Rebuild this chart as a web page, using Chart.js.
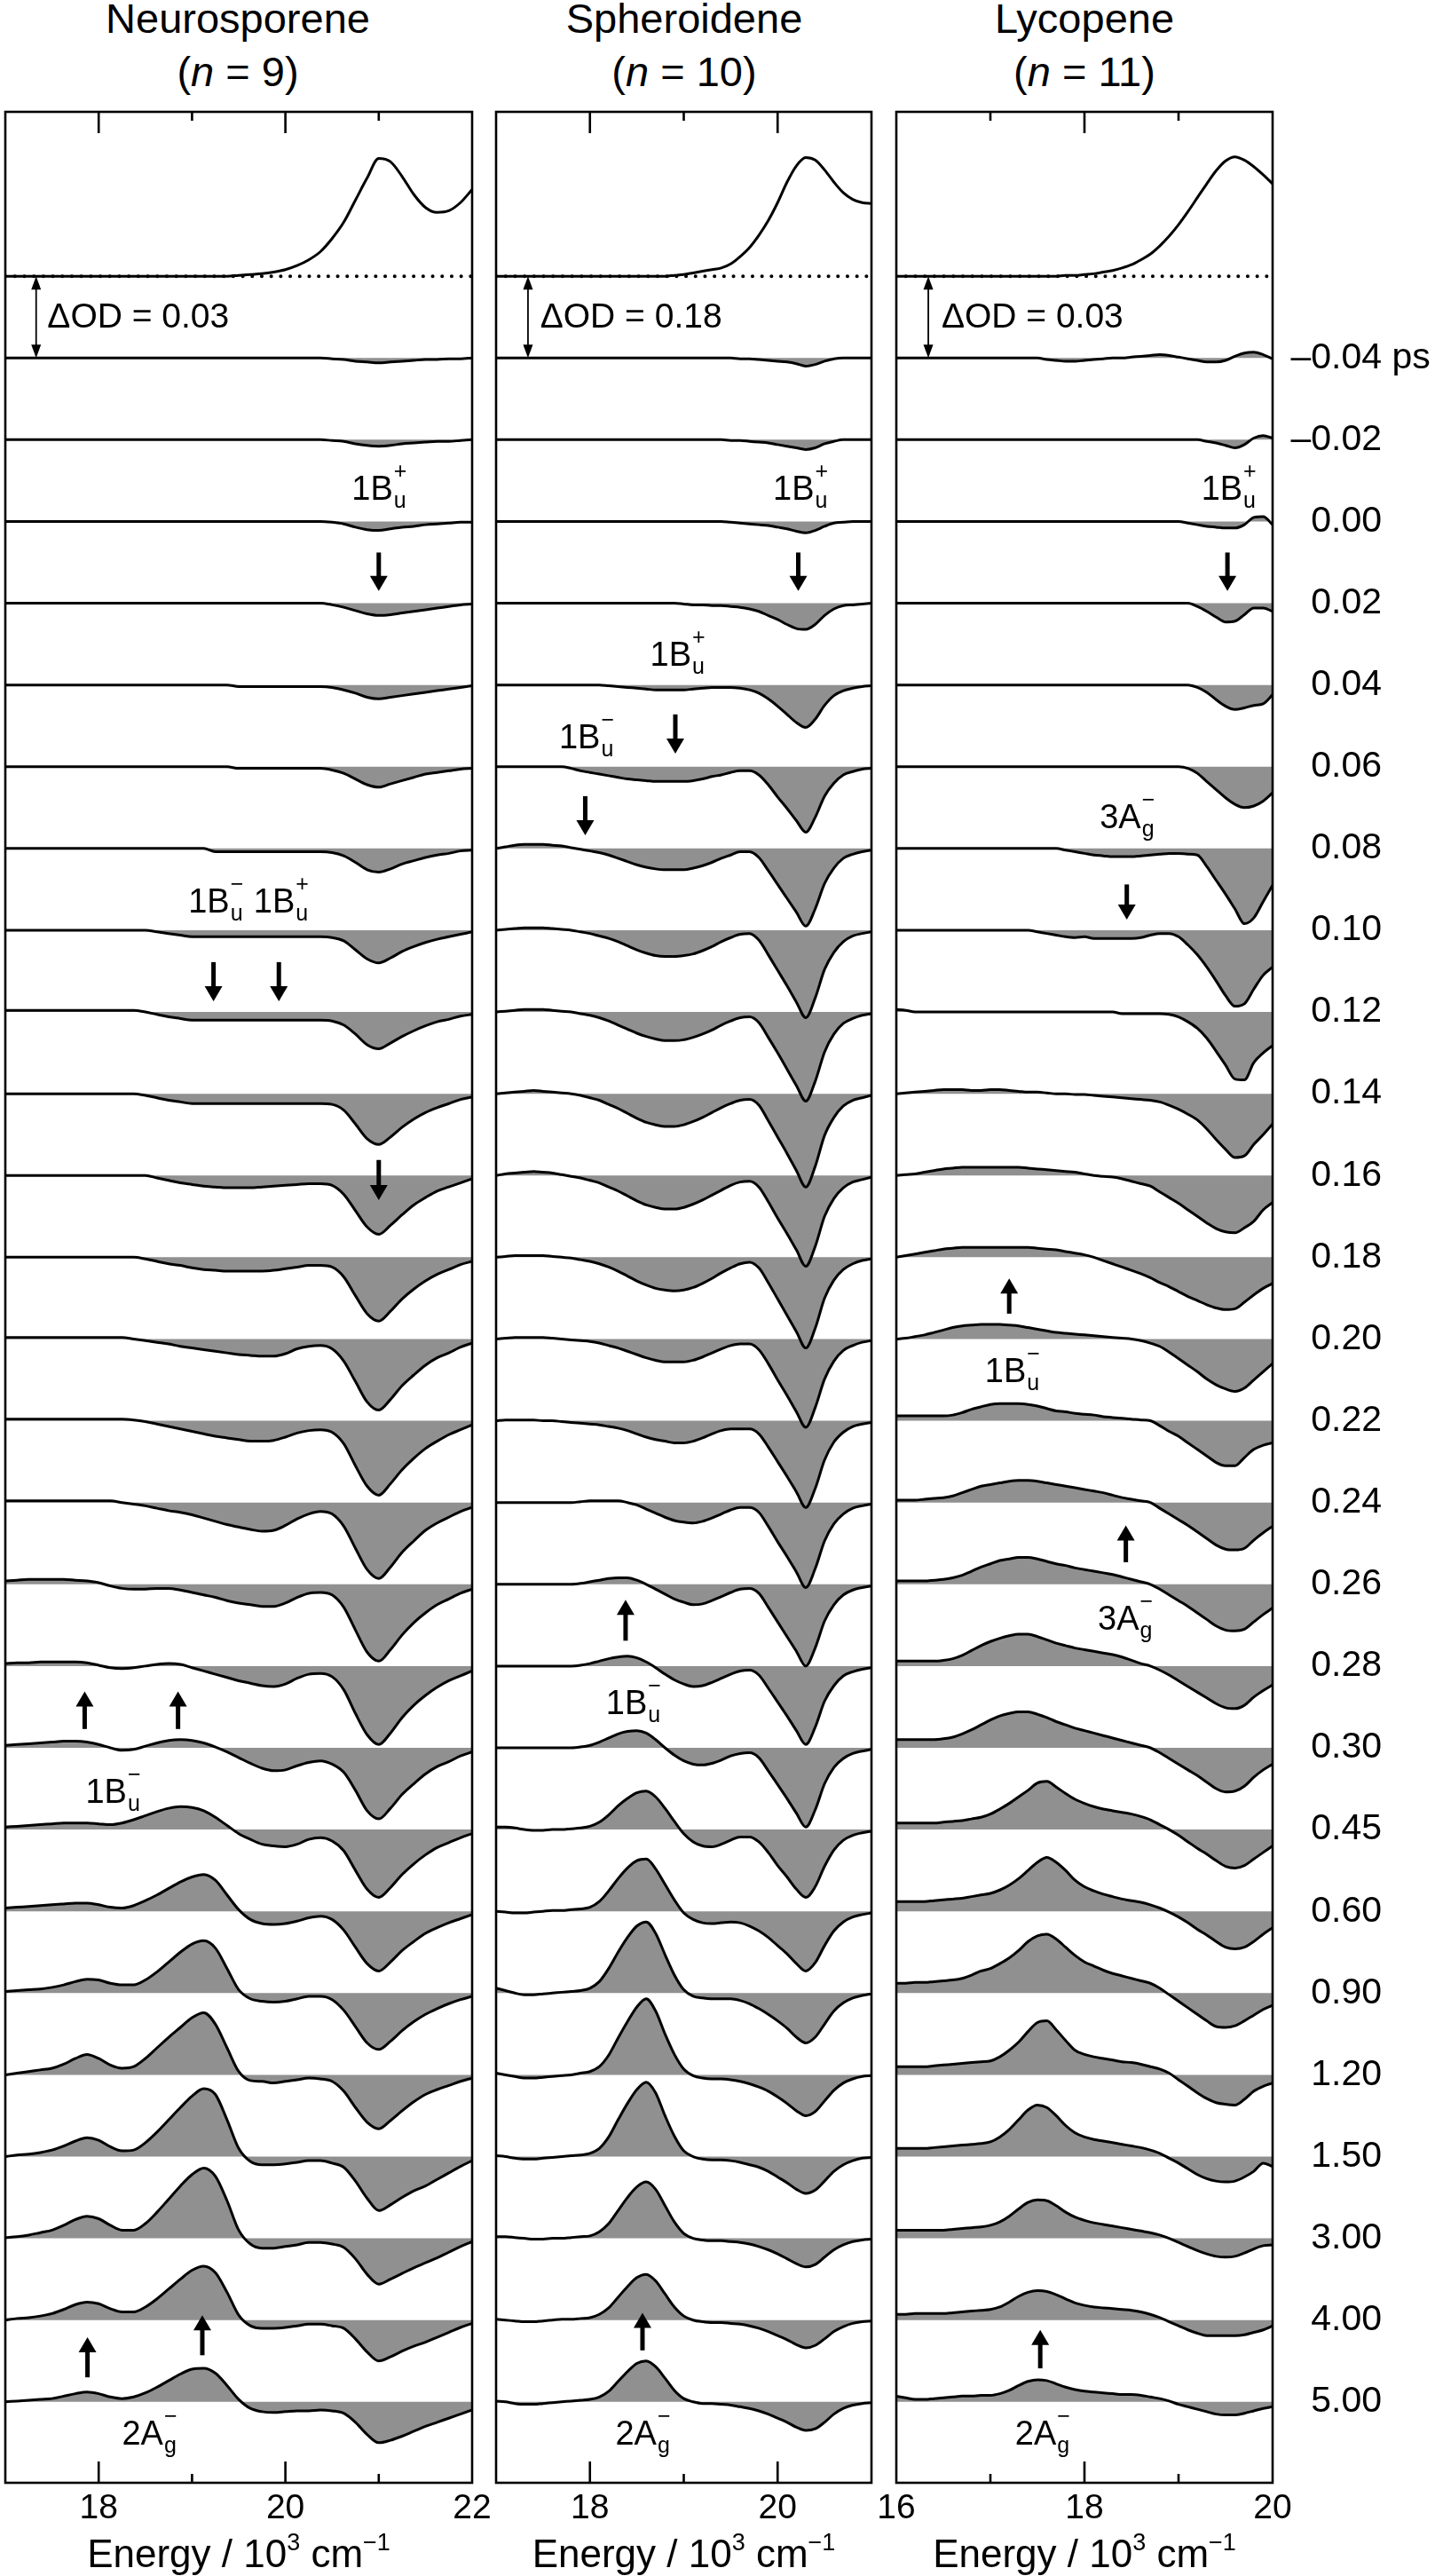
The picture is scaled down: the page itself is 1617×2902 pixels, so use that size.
<!DOCTYPE html>
<html>
<head>
<meta charset="utf-8">
<script src="https://cdn.jsdelivr.net/npm/chart.js@4.4.1/dist/chart.umd.min.js"></script>
<style>
  body { margin: 0; background: #fff; width: 1617px; height: 2902px; position: relative; overflow: hidden;
         font-family: 'Liberation Sans', Arial, sans-serif; }
  canvas { position: absolute; top: 0; }
  .ttl { position: absolute; top: -9px; width: 420px; text-align: center; font-size: 47px; line-height: 60px; color: #000; }
</style>
</head>
<body>
<div class="ttl" style="left:58px">Neurosporene<br>(<i>n</i> = 9)</div>
<div class="ttl" style="left:561px">Spheroidene<br>(<i>n</i> = 10)</div>
<div class="ttl" style="left:1012px">Lycopene<br>(<i>n</i> = 11)</div>
<canvas id="neu"></canvas>
<canvas id="sph"></canvas>
<canvas id="lyc"></canvas>
<script>
/* ---- data: energies (10^3 cm-1), spectra in units of the ΔOD bar ---- */
const TIMES = ['–0.04','–0.02','0.00','0.02','0.04','0.06','0.08','0.10','0.12','0.14','0.16','0.18','0.20',
               '0.22','0.24','0.26','0.28','0.30','0.45','0.60','0.90','1.20','1.50','3.00','4.00','5.00'];
const BARS = ['0.03', '0.18', '0.03'];

const NEU_E = [17,17.125,17.25,17.375,17.5,17.625,17.75,17.875,18,18.125,18.25,18.375,18.5,18.625,18.75,18.875,
  19,19.125,19.25,19.375,19.5,19.625,19.75,19.875,20,20.125,20.25,20.375,20.5,20.625,20.75,20.875,
  21,21.125,21.25,21.375,21.5,21.625,21.75,21.875,22];
const NEU_ABS = [0,0,0,0,0,0,0,0,0,0, 0,0,0,0,0,0,0,0,0,0, .01,.02,.03,.05,.08,.13,.2,.3,.46,.66,
  .93,1.2,1.44,1.4,1.22,1,.84,.78,.8,.9, 1.06];
const NEU_ROWS = [
  [0,0,0,0,0,0,0,0,0,0, 0,0,0,0,0,0,0,0,0,0, 0,0,0,0,0,0,0,0,-.01,-.02, -.04,-.05,-.06,-.05,-.04,-.03,-.02,-.02,-.01,-.01, 0],
  [0,0,0,0,0,0,0,0,0,0, 0,0,0,0,0,0,0,0,0,0, 0,0,0,0,0,0,0,0,-.01,-.02, -.05,-.07,-.08,-.07,-.05,-.04,-.03,-.02,-.02,-.01, 0],
  [0,0,0,0,0,0,0,0,0,0, 0,0,0,0,0,0,0,0,0,0, 0,0,0,0,0,0,0,0,-.01,-.03, -.07,-.1,-.11,-.09,-.07,-.06,-.04,-.03,-.02,-.01, -.01],
  [0,0,0,0,0,0,0,0,0,0, 0,0,0,0,0,0,0,0,0,0, 0,0,0,0,0,0,0,0,-.02,-.05, -.09,-.13,-.15,-.14,-.12,-.1,-.08,-.06,-.04,-.02, -.01],
  [0,0,0,0,0,0,0,0,0,0, 0,0,0,0,0,0,0,0,0,0, -.02,-.02,-.02,-.02,-.02,-.02,-.02,-.02,-.03,-.06, -.1,-.15,-.17,-.15,-.13,-.11,-.09,-.07,-.05,-.03, -.01],
  [0,0,0,0,0,0,0,0,0,0, 0,0,0,0,0,0,0,0,0,0, -.02,-.02,-.02,-.02,-.02,-.02,-.02,-.02,-.04,-.08, -.15,-.22,-.25,-.21,-.17,-.13,-.09,-.07,-.05,-.03, -.02],
  [0,0,0,0,0,0,0,0,0,0, 0,0,0,0,0,0,0,0,-.04,-.04, -.04,-.04,-.04,-.04,-.04,-.04,-.04,-.04,-.05,-.09, -.17,-.26,-.29,-.25,-.19,-.15,-.11,-.08,-.06,-.03, -.02],
  [0,0,0,0,0,0,0,0,0,0, 0,0,0,-.02,-.04,-.06,-.08,-.08,-.08,-.08, -.08,-.08,-.08,-.08,-.08,-.08,-.08,-.08,-.09,-.13, -.24,-.35,-.4,-.34,-.26,-.2,-.15,-.11,-.08,-.05, -.02],
  [.02,.02,.02,.02,.02,.02,.02,.02,.02,.02, .02,.02,0,-.03,-.06,-.08,-.1,-.1,-.1,-.1, -.1,-.1,-.1,-.1,-.1,-.1,-.1,-.1,-.11,-.16, -.27,-.4,-.45,-.38,-.3,-.23,-.17,-.12,-.09,-.05, -.03],
  [0,0,0,0,0,0,0,0,0,0, 0,0,-.02,-.05,-.08,-.1,-.12,-.12,-.12,-.12, -.12,-.12,-.12,-.12,-.12,-.12,-.12,-.12,-.13,-.2, -.37,-.55,-.62,-.53,-.41,-.31,-.23,-.17,-.12,-.07, -.04],
  [0,0,0,0,0,0,0,0,0,0, 0,0,0,-.03,-.06,-.09,-.11,-.13,-.14,-.15, -.15,-.15,-.14,-.13,-.12,-.11,-.1,-.1,-.12,-.23, -.43,-.63,-.72,-.61,-.48,-.36,-.27,-.19,-.14,-.09, -.04],
  [0,0,0,0,0,0,0,0,0,0, 0,0,-.02,-.05,-.08,-.1,-.13,-.15,-.16,-.17, -.17,-.17,-.17,-.16,-.14,-.12,-.1,-.1,-.12,-.24, -.47,-.69,-.78,-.66,-.51,-.39,-.29,-.21,-.15,-.09, -.05],
  [.02,.02,.02,.02,.02,.02,.02,.02,.02,.02, .02,0,-.02,-.04,-.06,-.09,-.11,-.13,-.15,-.17, -.19,-.2,-.21,-.21,-.18,-.12,-.09,-.08,-.12,-.27, -.52,-.77,-.87,-.74,-.57,-.44,-.32,-.23,-.17,-.1, -.05],
  [.02,.02,.02,.02,.02,.02,.02,.02,.02,.02, .02,.01,-.01,-.04,-.07,-.1,-.13,-.16,-.19,-.21, -.23,-.25,-.25,-.24,-.2,-.15,-.12,-.11,-.14,-.28, -.55,-.8,-.91,-.77,-.6,-.46,-.34,-.25,-.17,-.11, -.05],
  [.02,.02,.02,.02,.02,.02,.02,.02,.02,.02, 0,-.02,-.04,-.07,-.1,-.12,-.15,-.19,-.23,-.27, -.3,-.33,-.35,-.34,-.28,-.2,-.14,-.11,-.14,-.29, -.56,-.82,-.93,-.79,-.61,-.47,-.34,-.25,-.18,-.11, -.06],
  [.04,.05,.06,.06,.06,.06,.05,.04,.02,-.02, -.05,-.06,-.06,-.05,-.05,-.07,-.1,-.13,-.16,-.2, -.23,-.25,-.27,-.27,-.23,-.16,-.11,-.1,-.13,-.28, -.56,-.83,-.94,-.8,-.62,-.47,-.35,-.25,-.18,-.11, -.06],
  [.03,.04,.04,.05,.05,.05,.05,.04,.01,-.02, -.03,-.02,0,.02,.03,.02,-.02,-.06,-.1,-.14, -.18,-.21,-.24,-.25,-.22,-.15,-.1,-.09,-.13,-.29, -.58,-.84,-.96,-.82,-.63,-.48,-.36,-.26,-.18,-.12, -.06],
  [.03,.04,.05,.06,.07,.08,.08,.07,.04,0, -.03,-.02,.02,.06,.09,.1,.09,.06,.01,-.05, -.12,-.19,-.25,-.28,-.27,-.22,-.18,-.16,-.2,-.3, -.52,-.77,-.87,-.74,-.57,-.44,-.32,-.23,-.17,-.1, -.05],
  [.03,.04,.05,.06,.07,.08,.08,.08,.07,.06, .08,.12,.17,.22,.26,.28,.27,.23,.15,.05, -.05,-.12,-.18,-.2,-.21,-.18,-.12,-.1,-.14,-.26, -.5,-.73,-.83,-.71,-.55,-.42,-.31,-.22,-.16,-.1, -.05],
  [.04,.05,.06,.07,.08,.09,.1,.1,.08,.05, .04,.07,.13,.2,.28,.36,.42,.45,.38,.2, .02,-.1,-.15,-.16,-.15,-.12,-.08,-.06,-.1,-.23, -.44,-.64,-.73,-.62,-.48,-.37,-.27,-.2,-.14,-.09, -.04],
  [.02,.03,.04,.05,.07,.1,.14,.17,.16,.12, .1,.1,.16,.26,.38,.5,.6,.64,.55,.3, .04,-.07,-.1,-.11,-.1,-.07,-.04,-.04,-.08,-.21, -.41,-.61,-.69,-.59,-.46,-.35,-.26,-.19,-.13,-.08, -.04],
  [0,.02,.04,.06,.08,.13,.2,.25,.2,.12, .08,.1,.2,.33,.46,.58,.7,.76,.62,.33, .04,-.07,-.08,-.1,-.08,-.06,-.04,-.05,-.08,-.2, -.4,-.58,-.66,-.56,-.44,-.33,-.24,-.18,-.13,-.08, -.04],
  [0,.02,.03,.05,.08,.13,.19,.23,.2,.12, .07,.08,.17,.3,.45,.6,.74,.83,.76,.45, .1,-.06,-.1,-.1,-.09,-.07,-.05,-.05,-.08,-.13, -.3,-.51,-.66,-.59,-.5,-.42,-.36,-.28,-.2,-.12, -.05],
  [.01,.02,.04,.07,.1,.16,.23,.27,.24,.16, .1,.1,.18,.32,.48,.64,.78,.86,.76,.46, .1,-.07,-.12,-.12,-.1,-.08,-.05,-.05,-.07,-.11, -.25,-.44,-.56,-.5,-.43,-.36,-.3,-.24,-.17,-.1, -.04],
  [0,.02,.03,.05,.08,.13,.19,.22,.2,.14, .1,.1,.16,.26,.38,.5,.61,.66,.58,.34, .06,-.07,-.1,-.1,-.09,-.07,-.05,-.05,-.07,-.1, -.23,-.39,-.5,-.45,-.38,-.32,-.27,-.21,-.15,-.09, -.04],
  [0,.01,.02,.03,.04,.07,.1,.12,.1,.06, .04,.06,.11,.18,.26,.34,.4,.41,.35,.2, .03,-.08,-.12,-.13,-.12,-.11,-.11,-.1,-.11,-.14, -.25,-.4,-.5,-.47,-.42,-.36,-.3,-.25,-.2,-.15, -.1],
];

const SPH_E = [17,17.1,17.2,17.3,17.4,17.5,17.6,17.7,17.8,17.9,18,18.1,18.2,18.3,18.4,18.5,18.6,18.7,18.8,18.9,
  19,19.1,19.2,19.3,19.4,19.5,19.6,19.7,19.8,19.9,20,20.1,20.2,20.3,20.4,20.5,20.6,20.7,20.8,20.9,21];
const SPH_ABS = [0,0,0,0,0,0,0,0,0,0, 0,0,0,0,0,0,0,0,0,.01, .02,.04,.06,.08,.1,.15,.24,.35,.5,.68,
  .9,1.15,1.35,1.45,1.42,1.3,1.15,1.02,.94,.9, .89];
const SPH_ROWS = [
  [0,0,0,0,0,0,0,0,0,0, 0,0,0,0,0,0,0,0,0,0, 0,0,0,0,0,0,-.01,-.01,-.02,-.03, -.04,-.05,-.07,-.1,-.08,-.04,-.01,0,0,0, 0],
  [0,0,0,0,0,0,0,0,0,0, 0,0,0,0,0,0,0,0,0,0, 0,0,0,0,0,-.01,-.01,-.02,-.03,-.04, -.06,-.08,-.1,-.12,-.1,-.05,-.02,0,0,0, 0],
  [0,0,0,0,0,0,0,0,0,0, 0,0,0,0,0,0,0,0,0,0, 0,0,0,0,0,-.01,-.02,-.03,-.04,-.05, -.07,-.09,-.12,-.14,-.11,-.06,-.02,-.01,0,0, 0],
  [0,0,0,0,0,0,0,0,0,0, 0,0,0,0,0,0,0,0,0,0, -.01,-.02,-.02,-.03,-.03,-.04,-.05,-.07,-.1,-.15, -.2,-.26,-.31,-.32,-.26,-.15,-.07,-.03,-.02,-.01, 0],
  [0,0,0,0,0,0,0,0,0,0, 0,0,-.01,-.02,-.03,-.04,-.05,-.06,-.06,-.06, -.06,-.05,-.04,-.03,-.03,-.03,-.04,-.06,-.1,-.17, -.26,-.36,-.46,-.52,-.42,-.25,-.13,-.07,-.04,-.02, -.01],
  [0,0,0,0,0,0,0,0,-.02,-.05, -.07,-.09,-.11,-.13,-.15,-.16,-.17,-.18,-.18,-.18, -.18,-.17,-.15,-.12,-.1,-.07,-.05,-.05,-.1,-.22, -.37,-.51,-.66,-.8,-.62,-.36,-.2,-.1,-.06,-.03, -.02],
  [0,.02,.04,.05,.05,.05,.04,.03,.01,-.01, -.03,-.05,-.08,-.12,-.16,-.2,-.23,-.25,-.26,-.26, -.26,-.24,-.21,-.17,-.12,-.08,-.04,-.04,-.11,-.27, -.44,-.61,-.78,-.95,-.74,-.43,-.24,-.12,-.07,-.04, -.02],
  [0,.01,.02,.03,.03,.03,.02,.01,0,-.02, -.04,-.07,-.1,-.14,-.19,-.24,-.28,-.31,-.32,-.32, -.31,-.29,-.25,-.2,-.14,-.09,-.05,-.04,-.12,-.3, -.49,-.68,-.88,-1.07,-.83,-.48,-.27,-.14,-.07,-.04, -.02],
  [0,.01,.02,.03,.03,.03,.02,.01,0,-.02, -.04,-.07,-.11,-.16,-.21,-.26,-.3,-.33,-.35,-.35, -.34,-.31,-.27,-.22,-.16,-.11,-.07,-.06,-.13,-.31, -.5,-.7,-.9,-1.09,-.85,-.49,-.27,-.14,-.08,-.04, -.02],
  [0,.01,.02,.03,.04,.03,.02,.01,0,-.02, -.05,-.08,-.13,-.18,-.24,-.3,-.35,-.38,-.4,-.4, -.38,-.34,-.29,-.23,-.17,-.12,-.08,-.07,-.14,-.33, -.53,-.73,-.94,-1.14,-.89,-.51,-.29,-.15,-.08,-.05, -.02],
  [0,.02,.03,.04,.05,.04,.03,.01,-.01,-.03, -.06,-.09,-.14,-.19,-.25,-.31,-.36,-.39,-.41,-.41, -.39,-.35,-.3,-.24,-.18,-.12,-.08,-.07,-.14,-.32, -.52,-.71,-.91,-1.11,-.87,-.5,-.28,-.15,-.08,-.05, -.02],
  [0,.01,.02,.02,.02,.02,.01,0,-.01,-.03, -.05,-.08,-.12,-.17,-.23,-.29,-.34,-.38,-.4,-.41, -.4,-.37,-.32,-.26,-.19,-.13,-.08,-.06,-.13,-.31, -.51,-.71,-.91,-1.11,-.87,-.5,-.28,-.15,-.08,-.04, -.02],
  [0,.01,.02,.02,.02,.02,.01,0,-.01,-.02, -.03,-.05,-.08,-.11,-.15,-.19,-.23,-.26,-.28,-.28, -.28,-.26,-.22,-.17,-.12,-.08,-.06,-.06,-.13,-.3, -.5,-.69,-.89,-1.08,-.84,-.49,-.27,-.14,-.08,-.04, -.02],
  [0,.01,.01,.01,.01,0,0,-.01,-.02,-.03, -.04,-.05,-.07,-.09,-.12,-.16,-.2,-.23,-.25,-.27, -.27,-.25,-.21,-.16,-.12,-.1,-.1,-.1,-.16,-.32, -.5,-.68,-.87,-1.06,-.83,-.48,-.26,-.14,-.07,-.04, -.02],
  [0,0,0,0,0,0,0,0,0,.01, .02,.02,.02,.02,0,-.03,-.08,-.13,-.18,-.22, -.24,-.25,-.23,-.19,-.14,-.09,-.06,-.06,-.12,-.29, -.48,-.66,-.85,-1.04,-.81,-.47,-.26,-.14,-.07,-.04, -.02],
  [0,0,0,0,0,0,0,0,0,.01, .03,.05,.07,.08,.08,.05,0,-.06,-.12,-.18, -.22,-.25,-.24,-.2,-.15,-.1,-.06,-.05,-.11,-.28, -.46,-.64,-.82,-1,-.78,-.45,-.25,-.13,-.07,-.04, -.02],
  [0,0,0,0,0,0,0,0,0,.01, .03,.06,.09,.11,.12,.1,.05,-.02,-.1,-.17, -.22,-.25,-.24,-.2,-.15,-.1,-.06,-.05,-.11,-.27, -.44,-.61,-.79,-.96,-.75,-.43,-.24,-.12,-.07,-.04, -.02],
  [0,0,0,0,0,0,0,0,0,.01, .03,.07,.12,.17,.2,.21,.18,.1,0,-.09, -.16,-.2,-.21,-.19,-.15,-.1,-.07,-.06,-.12,-.28, -.45,-.62,-.8,-.97,-.76,-.44,-.24,-.13,-.07,-.04, -.02],
  [.03,.03,.02,0,-.01,-.01,0,0,.01,.02, .04,.09,.18,.29,.38,.45,.47,.4,.26,.1, -.05,-.15,-.2,-.21,-.18,-.13,-.09,-.09,-.15,-.28, -.44,-.58,-.73,-.83,-.7,-.45,-.25,-.13,-.07,-.04, -.02],
  [0,-.01,-.02,-.02,-.01,0,.01,.01,.02,.03, .05,.12,.25,.4,.53,.62,.64,.52,.33,.14, -.02,-.1,-.14,-.15,-.14,-.13,-.14,-.18,-.24,-.32, -.42,-.52,-.64,-.73,-.63,-.42,-.24,-.13,-.07,-.04, -.02],
  [.06,.03,0,-.02,-.02,-.01,0,.01,.02,.03, .06,.14,.3,.5,.68,.82,.87,.73,.47,.22, .04,-.04,-.06,-.07,-.07,-.07,-.09,-.13,-.19,-.26, -.34,-.43,-.54,-.61,-.54,-.38,-.22,-.12,-.06,-.03, -.01],
  [.02,0,-.02,-.04,-.04,-.03,-.02,-.01,0,.02, .04,.1,.24,.45,.65,.83,.93,.78,.5,.25, .07,-.01,-.04,-.05,-.05,-.06,-.08,-.11,-.15,-.2, -.27,-.35,-.44,-.5,-.45,-.32,-.19,-.1,-.05,-.02, -.01],
  [.01,0,-.02,-.03,-.03,-.02,-.01,0,.01,.02, .04,.1,.24,.45,.65,.82,.91,.78,.5,.25, .07,0,-.03,-.04,-.04,-.05,-.07,-.1,-.13,-.18, -.25,-.32,-.4,-.45,-.41,-.3,-.18,-.1,-.05,-.02, -.01],
  [.02,.02,.01,0,-.01,-.01,0,0,.01,.02, .03,.08,.18,.34,.5,.63,.69,.6,.4,.2, .06,0,-.02,-.03,-.03,-.04,-.05,-.07,-.1,-.14, -.19,-.25,-.31,-.35,-.32,-.23,-.14,-.08,-.04,-.02, -.01],
  [.01,0,-.01,-.02,-.02,-.01,0,.01,.01,.02, .03,.07,.15,.28,.41,.52,.56,.48,.32,.16, .05,0,-.02,-.03,-.03,-.04,-.05,-.07,-.1,-.14, -.19,-.24,-.3,-.34,-.31,-.23,-.14,-.08,-.04,-.02, -.01],
  [.01,0,-.02,-.03,-.03,-.02,-.01,0,.01,.02, .03,.06,.13,.25,.37,.47,.5,.43,.29,.14, .04,0,-.02,-.02,-.03,-.04,-.06,-.08,-.11,-.15, -.2,-.25,-.31,-.35,-.33,-.25,-.15,-.08,-.04,-.02, -.01],
];

const LYC_E = [16,16.1,16.2,16.3,16.4,16.5,16.6,16.7,16.8,16.9,17,17.1,17.2,17.3,17.4,17.5,17.6,17.7,17.8,17.9,
  18,18.1,18.2,18.3,18.4,18.5,18.6,18.7,18.8,18.9,19,19.1,19.2,19.3,19.4,19.5,19.6,19.7,19.8,19.9,20];
const LYC_ABS = [0,0,0,0,0,0,0,0,0,0, 0,0,0,0,0,0,0,0,.01,.01, .02,.03,.05,.07,.1,.14,.2,.27,.37,.49,
  .63,.79,.96,1.13,1.29,1.41,1.46,1.42,1.34,1.24, 1.13];
const LYC_ROWS = [
  [0,0,0,0,0,0,0,0,0,0, 0,0,0,0,0,0,-.02,-.03,-.04,-.04, -.03,-.02,-.01,0,0,.01,.02,.03,.04,.03, .01,-.01,-.03,-.05,-.05,-.03,.02,.06,.07,.04, -.01],
  [0,0,0,0,0,0,0,0,0,0, 0,0,0,0,0,0,0,0,0,0, 0,0,0,0,0,0,0,0,0,0, 0,0,0,-.02,-.04,-.07,-.1,-.06,.02,.05, .02],
  [0,0,0,0,0,0,0,0,0,0, 0,0,0,0,0,0,0,0,0,0, 0,0,0,0,0,0,0,0,0,0, 0,-.02,-.04,-.06,-.07,-.08,-.08,-.04,.05,.06, -.04],
  [0,0,0,0,0,0,0,0,0,0, 0,0,0,0,0,0,0,0,0,0, 0,0,0,0,0,0,0,0,0,0, 0,0,-.04,-.1,-.17,-.23,-.22,-.14,-.06,-.06, -.1],
  [0,0,0,0,0,0,0,0,0,0, 0,0,0,0,0,0,0,0,0,0, 0,0,0,0,0,0,0,0,0,0, 0,0,-.03,-.09,-.18,-.26,-.3,-.28,-.25,-.23, -.12],
  [0,0,0,0,0,0,0,0,0,0, 0,0,0,0,0,0,0,0,0,0, 0,0,0,0,0,0,0,0,0,0, 0,-.02,-.08,-.18,-.28,-.38,-.46,-.5,-.48,-.42, -.32],
  [0,0,0,0,0,0,0,0,0,0, 0,0,0,0,0,0,0,0,-.02,-.04, -.06,-.08,-.09,-.1,-.1,-.1,-.09,-.08,-.07,-.06, -.06,-.07,-.08,-.22,-.39,-.56,-.74,-.92,-.85,-.65, -.45],
  [0,0,0,0,0,0,0,0,0,0, 0,0,0,0,0,-.02,-.04,-.06,-.08,-.09, -.08,-.1,-.1,-.1,-.1,-.1,-.09,-.06,-.04,-.04, -.08,-.18,-.3,-.45,-.62,-.8,-.93,-.9,-.72,-.55, -.45],
  [.03,.02,0,0,0,0,0,0,0,0, 0,0,0,0,0,0,0,0,0,0, 0,0,0,0,-.02,-.02,-.02,-.02,-.02,-.03, -.06,-.12,-.2,-.32,-.48,-.65,-.82,-.83,-.62,-.5, -.41],
  [0,.01,.02,.03,.04,.05,.05,.05,.04,.04, .05,.05,.04,.03,.02,.02,.01,0,0,-.01, -.01,-.02,-.03,-.04,-.05,-.06,-.07,-.08,-.1,-.14, -.19,-.25,-.32,-.43,-.56,-.68,-.78,-.76,-.62,-.5, -.37],
  [0,.01,.02,.04,.06,.08,.09,.1,.1,.1, .1,.1,.1,.1,.09,.08,.07,.06,.05,.04, .02,0,-.01,-.02,-.04,-.07,-.1,-.13,-.2,-.27, -.34,-.42,-.5,-.58,-.65,-.69,-.7,-.64,-.56,-.42, -.33],
  [0,.02,.04,.06,.08,.1,.11,.12,.12,.12, .12,.12,.12,.12,.12,.11,.1,.09,.07,.05, .03,0,-.04,-.08,-.12,-.16,-.2,-.25,-.31,-.36, -.42,-.48,-.53,-.58,-.62,-.64,-.63,-.55,-.46,-.38, -.32],
  [0,.01,.03,.05,.08,.11,.14,.16,.17,.18, .18,.18,.17,.16,.14,.12,.1,.08,.07,.06, .05,.04,.03,.02,.01,0,-.02,-.05,-.09,-.16, -.24,-.32,-.4,-.49,-.56,-.61,-.64,-.6,-.5,-.4, -.3],
  [.06,.06,.06,.06,.06,.06,.07,.1,.14,.17, .2,.21,.21,.21,.2,.18,.15,.12,.11,.09, .08,.07,.05,.04,.03,.02,.01,0,-.06,-.13, -.19,-.27,-.35,-.43,-.51,-.55,-.55,-.45,-.35,-.3, -.27],
  [.03,.03,.03,.04,.05,.06,.08,.12,.16,.2, .22,.24,.26,.27,.27,.26,.24,.22,.2,.18, .16,.14,.12,.09,.06,.04,.02,0,-.07,-.14, -.21,-.28,-.36,-.44,-.52,-.57,-.58,-.56,-.46,-.37, -.29],
  [.04,.04,.04,.04,.05,.06,.08,.11,.16,.21, .25,.29,.31,.33,.33,.31,.28,.25,.23,.2, .18,.16,.14,.12,.09,.06,.03,0,-.06,-.13, -.2,-.27,-.35,-.43,-.51,-.56,-.57,-.55,-.46,-.37, -.29],
  [.06,.06,.06,.06,.06,.07,.09,.13,.19,.25, .3,.34,.37,.39,.39,.36,.32,.28,.25,.22, .2,.18,.16,.14,.11,.07,.03,0,-.05,-.11, -.18,-.25,-.32,-.39,-.46,-.51,-.52,-.48,-.38,-.3, -.23],
  [.1,.1,.1,.1,.1,.11,.13,.17,.22,.28, .34,.39,.42,.44,.44,.41,.37,.32,.28,.24, .21,.18,.15,.12,.09,.06,.03,0,-.06,-.13, -.2,-.27,-.34,-.42,-.5,-.54,-.53,-.47,-.36,-.27, -.2],
  [.08,.08,.08,.08,.08,.09,.1,.11,.13,.15, .19,.25,.32,.4,.48,.57,.59,.52,.44,.37, .32,.28,.25,.23,.21,.19,.16,.12,.06,0, -.07,-.15,-.23,-.3,-.38,-.45,-.47,-.44,-.36,-.28, -.2],
  [.12,.12,.12,.12,.13,.14,.15,.16,.18,.2, .22,.26,.32,.4,.5,.6,.66,.6,.5,.38, .3,.25,.21,.18,.15,.13,.11,.08,.04,-.01, -.07,-.14,-.22,-.29,-.37,-.44,-.46,-.44,-.37,-.28, -.2],
  [.12,.12,.13,.13,.14,.15,.16,.18,.22,.27, .3,.36,.43,.52,.63,.7,.72,.66,.56,.46, .38,.33,.28,.24,.21,.18,.15,.12,.06,-.02, -.1,-.18,-.26,-.34,-.41,-.42,-.4,-.34,-.27,-.2, -.15],
  [.1,.1,.1,.1,.11,.12,.13,.14,.15,.16, .17,.22,.3,.4,.53,.64,.66,.55,.42,.3, .25,.22,.2,.18,.16,.15,.13,.1,.07,.02, -.06,-.14,-.22,-.29,-.34,-.36,-.37,-.3,-.2,-.14, -.1],
  [.1,.1,.1,.1,.11,.12,.13,.14,.15,.16, .18,.24,.33,.45,.57,.63,.6,.5,.38,.29, .24,.21,.19,.17,.15,.13,.11,.08,.04,-.02, -.08,-.15,-.22,-.27,-.3,-.31,-.3,-.25,-.18,-.08, -.12],
  [.1,.1,.1,.1,.1,.1,.11,.12,.13,.14, .16,.2,.27,.36,.44,.47,.46,.4,.32,.26, .22,.19,.17,.15,.13,.11,.09,.07,.04,0, -.05,-.1,-.15,-.19,-.22,-.23,-.22,-.18,-.13,-.09, -.08],
  [.07,.07,.08,.08,.08,.08,.09,.1,.11,.12, .13,.16,.22,.29,.34,.36,.35,.31,.26,.21, .18,.16,.15,.14,.13,.12,.1,.07,.03,-.02, -.07,-.12,-.16,-.19,-.19,-.19,-.19,-.18,-.15,-.12, -.07],
  [.07,.05,.03,.03,.04,.05,.06,.07,.07,.08, .08,.1,.14,.2,.25,.27,.26,.22,.18,.15, .13,.12,.11,.1,.09,.09,.08,.06,.04,.01, -.03,-.06,-.09,-.12,-.15,-.16,-.16,-.14,-.11,-.08, -.06],
];

[NEU_ROWS, SPH_ROWS, LYC_ROWS].forEach((set, p) => set.forEach((row, r) => {
  if (row.length !== 41) throw new Error('panel ' + p + ' row ' + r + ' has ' + row.length + ' values');
}));

/* ---- look ---- */
const FONT = "'Liberation Sans', Arial, sans-serif";
const GRAY = '#909090';
const ROW_MIN = -26.99, ROW_MAX = 2.01;
Chart.defaults.font.family = FONT;
Chart.defaults.color = '#000';

function datasetsFor(E, rows, abs) {
  const sets = rows.map((v, r) => ({
    data: E.map((e, i) => ({ x: e, y: v[i] - (r + 1) })),
    fill: { value: -(r + 1) },
    backgroundColor: GRAY, borderColor: '#000', borderWidth: 3,
    pointRadius: 0, cubicInterpolationMode: 'monotone',
  }));
  sets.push({
    data: E.map((e, i) => ({ x: e, y: abs[i] })), fill: false,
    borderColor: '#000', borderWidth: 3, pointRadius: 0, cubicInterpolationMode: 'monotone',
  });
  sets.push({
    data: [{ x: E[0], y: 0 }, { x: E[E.length - 1], y: 0 }], fill: false,
    borderColor: '#000', borderWidth: 4, borderDash: [0.1, 10.6], borderCapStyle: 'round', pointRadius: 0,
  });
  return sets;
}

function arrow(ctx, x, yTail, yTip, w, hw, hl) {
  const dir = Math.sign(yTip - yTail);
  ctx.lineWidth = w;
  ctx.beginPath(); ctx.moveTo(x, yTail); ctx.lineTo(x, yTip - dir * hl * 0.7); ctx.stroke();
  ctx.beginPath(); ctx.moveTo(x, yTip);
  ctx.lineTo(x - hw, yTip - dir * hl); ctx.lineTo(x + hw, yTip - dir * hl); ctx.closePath(); ctx.fill();
}

function stateLabel(ctx, cx, cy, main, sup, sub) {
  ctx.font = `38px ${FONT}`;
  const mw = ctx.measureText(main).width;
  ctx.font = `25px ${FONT}`;
  const sw = Math.max(ctx.measureText(sup).width, ctx.measureText(sub).width);
  const x0 = cx - (mw + sw) / 2, base = cy + 14;
  ctx.textAlign = 'left'; ctx.textBaseline = 'alphabetic';
  ctx.font = `38px ${FONT}`; ctx.fillText(main, x0, base);
  ctx.font = `25px ${FONT}`;
  ctx.fillText(sup, x0 + mw + 1, base - 24);
  ctx.fillText(sub, x0 + mw + 1, base + 9);
}

const decoPlugin = {
  id: 'deco',
  afterDatasetsDraw(chart, args, o) {
    const { ctx, chartArea: a, scales: { x, y } } = chart;
    ctx.save();
    ctx.strokeStyle = '#000'; ctx.fillStyle = '#000';
    // frame and inward ticks
    ctx.lineWidth = 2.6;
    ctx.strokeRect(a.left, a.top, a.right - a.left, a.bottom - a.top);
    for (let v = Math.ceil(x.min) + 1; v < x.max; v++) {
      const px = x.getPixelForValue(v), len = v % 2 === 0 ? 24 : 10;
      ctx.beginPath();
      ctx.moveTo(px, a.top); ctx.lineTo(px, a.top + len);
      ctx.moveTo(px, a.bottom); ctx.lineTo(px, a.bottom - len);
      ctx.stroke();
    }
    // ΔOD scale bar
    const bx = x.getPixelForValue(o.bar.e), b0 = y.getPixelForValue(0), b1 = y.getPixelForValue(-1);
    ctx.lineWidth = 1.8;
    ctx.beginPath(); ctx.moveTo(bx, b0 + 10); ctx.lineTo(bx, b1 - 10); ctx.stroke();
    [[b0, 1], [b1, -1]].forEach(([yy, d]) => {
      ctx.beginPath(); ctx.moveTo(bx, yy); ctx.lineTo(bx - 5.5, yy + d * 15); ctx.lineTo(bx + 5.5, yy + d * 15);
      ctx.closePath(); ctx.fill();
    });
    ctx.font = `39px ${FONT}`; ctx.textAlign = 'left'; ctx.textBaseline = 'middle';
    ctx.fillText('ΔOD = ' + o.bar.text, x.getPixelForValue(o.bar.textE), y.getPixelForValue(-0.51));
    // arrows and state labels
    o.arrows.forEach(([e, t, h]) => arrow(ctx, x.getPixelForValue(e), y.getPixelForValue(t), y.getPixelForValue(h), 5, 10, 17));
    o.states.forEach(([e, yy, m, s, b]) => stateLabel(ctx, x.getPixelForValue(e), y.getPixelForValue(yy), m, s, b));
    // axis title
    const cx = (a.left + a.right) / 2, base = 2892;
    const parts = [['Energy / 10', 44, 0], ['3', 27, -19], [' cm', 44, 0], ['\u22121', 27, -19]];
    let tw = 0;
    parts.forEach(p => { ctx.font = `${p[1]}px ${FONT}`; tw += ctx.measureText(p[0]).width; });
    let px = cx - tw / 2;
    ctx.textBaseline = 'alphabetic';
    parts.forEach(p => { ctx.font = `${p[1]}px ${FONT}`; ctx.fillText(p[0], px, base + p[2]); px += ctx.measureText(p[0]).width; });
    // delay-time labels
    if (o.timesX) {
      ctx.font = `41px ${FONT}`; ctx.textBaseline = 'middle';
      TIMES.forEach((t, r) => {
        const yy = y.getPixelForValue(-(r + 1));
        ctx.textAlign = 'right'; ctx.fillText(t, o.timesX, yy);
        if (r === 0) { ctx.textAlign = 'left'; ctx.fillText(' ps', o.timesX, yy); }
      });
    }
    ctx.restore();
  },
};

function makePanel(id, left, width, padL, padR, E, rows, abs, deco) {
  const cv = document.getElementById(id);
  cv.width = width; cv.height = 2902; cv.style.left = left + 'px';
  return new Chart(cv, {
    type: 'line',
    data: { datasets: datasetsFor(E, rows, abs) },
    options: {
      responsive: false, animation: false, devicePixelRatio: 1,
      layout: { padding: { left: padL, right: padR, top: 126, bottom: 0 } },
      plugins: { legend: { display: false }, tooltip: { enabled: false }, deco },
      scales: {
        x: {
          type: 'linear', min: E[0], max: E[E.length - 1],
          grid: { display: false, drawTicks: false }, border: { display: false },
          ticks: { stepSize: 1, autoSkip: false, maxRotation: 0, padding: 6, color: '#000',
                   font: { size: 39 }, callback: v => (v % 2 === 0 ? String(v) : '') },
          afterFit: s => { s.height = 105; },
        },
        y: { display: false, min: ROW_MIN, max: ROW_MAX },
      },
    },
    plugins: [decoPlugin],
  });
}

makePanel('neu', 0, 562, 3, 30, NEU_E, NEU_ROWS, NEU_ABS, {
  bar: { e: 17.33, textE: 17.45, text: BARS[0] },
  arrows: [[21.0, -3.38, -3.85], [19.23, -8.39, -8.87], [19.93, -8.39, -8.87], [21.0, -10.81, -11.3],
           [17.85, -17.77, -17.31], [18.85, -17.77, -17.31], [17.88, -25.7, -25.21], [19.11, -25.43, -24.94]],
  states: [[21.0, -2.58, '1B', '+', 'u'], [19.25, -7.63, '1B', '\u2212', 'u'], [19.95, -7.63, '1B', '+', 'u'],
           [18.15, -18.52, '1B', '\u2212', 'u'], [18.54, -26.37, '2A', '\u2212', 'g']],
});
makePanel('sph', 529, 483, 30, 30, SPH_E, SPH_ROWS, SPH_ABS, {
  bar: { e: 17.34, textE: 17.47, text: BARS[1] },
  arrows: [[20.22, -3.38, -3.85], [18.91, -5.36, -5.84], [17.95, -6.36, -6.84], [18.38, -16.69, -16.19],
           [18.56, -25.37, -24.91]],
  states: [[20.24, -2.58, '1B', '+', 'u'], [18.93, -4.61, '1B', '+', 'u'], [17.96, -5.62, '1B', '\u2212', 'u'],
           [18.46, -17.44, '1B', '\u2212', 'u'], [18.56, -26.37, '2A', '\u2212', 'g']],
});
makePanel('lyc', 980, 637, 30, 183, LYC_E, LYC_ROWS, LYC_ABS, {
  bar: { e: 16.34, textE: 16.48, text: BARS[2] },
  timesX: 577,
  arrows: [[19.52, -3.38, -3.85], [18.45, -7.44, -7.87], [17.2, -12.69, -12.26], [18.44, -15.73, -15.28],
           [17.53, -25.59, -25.12]],
  states: [[19.53, -2.58, '1B', '+', 'u'], [18.45, -6.6, '3A', '\u2212', 'g'], [17.23, -13.37, '1B', '\u2212', 'u'],
           [18.43, -16.4, '3A', '\u2212', 'g'], [17.55, -26.37, '2A', '\u2212', 'g']],
});
</script>
</body>
</html>
